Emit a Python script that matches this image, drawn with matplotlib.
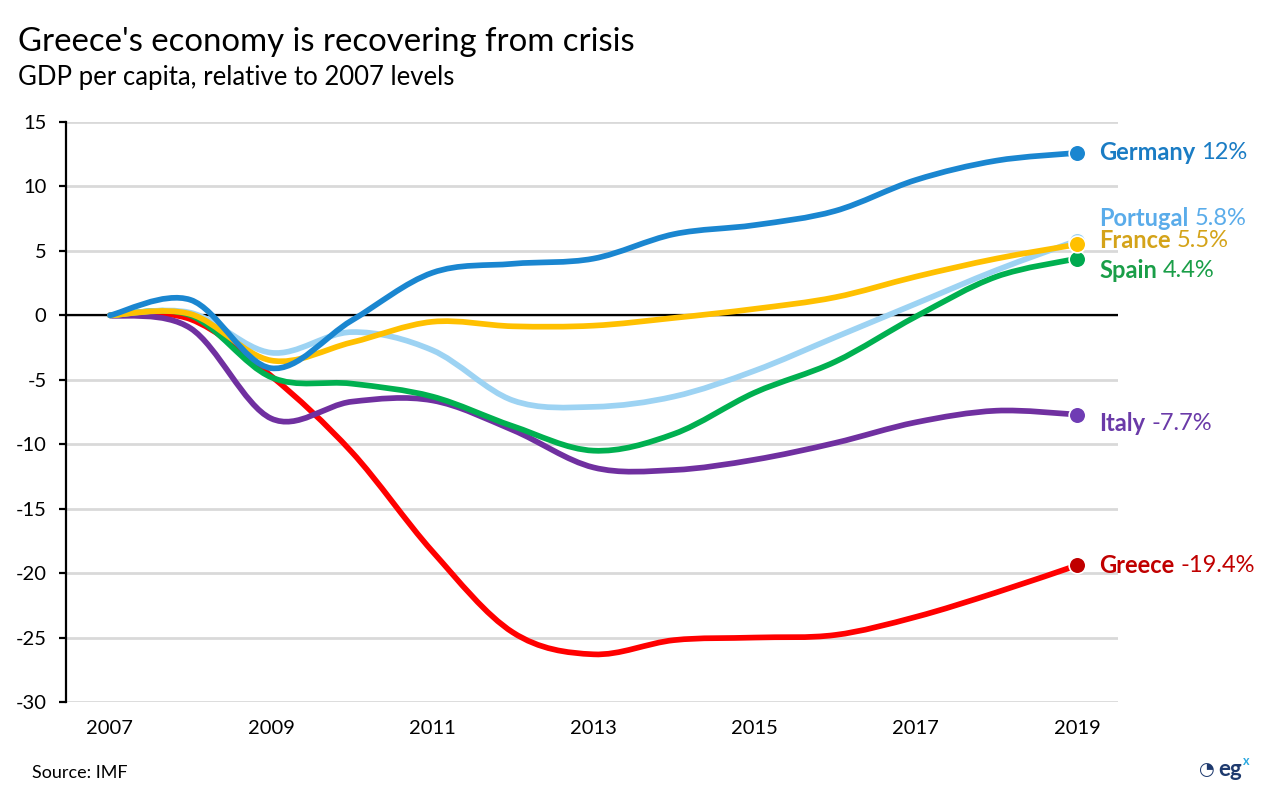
import numpy as np
import matplotlib
matplotlib.use("Agg")
import matplotlib.pyplot as plt
from matplotlib.path import Path
from matplotlib.patches import PathPatch

plt.rcParams['font.family'] = ['Lato', 'DejaVu Sans']
plt.rcParams['axes.unicode_minus'] = False

# GDP per capita, % relative to 2007
years = list(range(2007, 2020))
greece = [0, -0.3, -4.7, -10.6, -18.3, -24.6, -26.3, -25.2, -25.0, -24.8, -23.4, -21.5, -19.4]
italy = [0, -1.0, -8.0, -6.7, -6.6, -8.9, -11.8, -12.0, -11.2, -9.9, -8.3, -7.4, -7.7]
spain = [0, 0.0, -4.8, -5.3, -6.3, -8.6, -10.5, -9.2, -6.0, -3.6, -0.1, 3.0, 4.4]
portugal = [0, 0.2, -2.9, -1.3, -2.7, -6.6, -7.1, -6.3, -4.3, -1.7, 0.9, 3.5, 5.8]
france = [0, 0.1, -3.5, -2.1, -0.5, -0.85, -0.8, -0.2, 0.5, 1.4, 3.0, 4.4, 5.5]
germany = [0, 1.2, -4.1, -0.4, 3.3, 4.0, 4.4, 6.3, 7.0, 8.1, 10.5, 12.0, 12.6]

# drawing order: first is lowest
names = ["Greece", "Italy", "Spain", "Portugal", "France", "Germany"]
series = [greece, italy, spain, portugal, france, germany]
end_labels = ["-19.4%", "-7.7%", "4.4%", "5.8%", "5.5%", "12%"]

line_colors = ["#ff0000", "#7030a0", "#00b050", "#9dd3f3", "#ffc000", "#1a86d0"]
dot_colors = ["#c00000", "#6f3cb4", "#00a94f", "#9dd3f3", "#ffc000", "#1a86d0"]
text_colors = ["#c00000", "#6a3aa8", "#1a9e48", "#5aacea", "#d4a319", "#1a7cc4"]
label_y = [-19.4, -8.4, 3.5, 7.5, 5.8, 12.6]


def smooth_path(xs, ys):
    # Excel-style smoothed line: Catmull-Rom converted to cubic Bezier segments
    pts = np.column_stack([xs, ys]).astype(float)
    ext = np.vstack([pts[0], pts, pts[-1]])
    verts = [pts[0]]
    codes = [Path.MOVETO]
    for i in range(len(pts) - 1):
        p0, p1, p2, p3 = ext[i], ext[i + 1], ext[i + 2], ext[i + 3]
        c1 = p1 + (p2 - p0) / 6.0
        c2 = p2 - (p3 - p1) / 6.0
        verts += [c1, c2, p2]
        codes += [Path.CURVE4] * 3
    return Path(verts, codes)


fig = plt.figure(figsize=(12.8, 7.91), dpi=100)
ax = fig.add_axes([66 / 1280, 89 / 791, (1118 - 66) / 1280, (702 - 122) / 791])

ax.set_xlim(2006.455, 2019.51)
ax.set_ylim(-30, 15)
ax.set_yticks(range(-30, 16, 5))
ax.set_xticks([2007, 2009, 2011, 2013, 2015, 2017, 2019])
ax.grid(axis='y', color='#d9d9d9', linewidth=2)
ax.set_axisbelow(True)
ax.axhline(0, color='black', linewidth=1.6, zorder=1.5)

for s in ['top', 'right', 'bottom']:
    ax.spines[s].set_visible(False)
ax.spines['left'].set_linewidth(1.6)
ax.tick_params(axis='y', length=5, width=1.6, labelsize=14.5, pad=9)
ax.tick_params(axis='x', length=0, labelsize=14.5, pad=13)

fig.canvas.draw()
renderer = fig.canvas.get_renderer()

for i, (name, vals) in enumerate(zip(names, series)):
    patch = PathPatch(smooth_path(years, vals), facecolor='none',
                      edgecolor=line_colors[i], linewidth=4.1,
                      capstyle='round', joinstyle='round', zorder=3 + i)
    ax.add_patch(patch)
    ax.plot(years[-1], vals[-1], 'o', markersize=12, color=dot_colors[i],
            markeredgecolor='white', markeredgewidth=1.2, zorder=10 + i,
            clip_on=False)
    t = ax.annotate(name + " ", xy=(years[-1], label_y[i]), xytext=(16, 0),
                    textcoords='offset points', va='center', ha='left',
                    fontsize=17, fontweight='bold', color=text_colors[i],
                    annotation_clip=False)
    # value placed right after the bold name
    bb = t.get_window_extent(renderer)
    x_data = ax.transData.inverted().transform((bb.x1, 0))[0]
    t.set_text(name)
    ax.annotate(end_labels[i], xy=(x_data, label_y[i]), xytext=(0, 0),
                textcoords='offset points', va='center', ha='left',
                fontsize=17, color=text_colors[i], annotation_clip=False)

fig.text(18 / 1280, 1 - 42 / 791, "Greece's economy is recovering from crisis",
         fontsize=23.7, va='center', ha='left', color='black')
fig.text(18 / 1280, 1 - 78 / 791, "GDP per capita, relative to 2007 levels",
         fontsize=18.5, va='center', ha='left', color='black')
fig.text(32 / 1280, 1 - 773 / 791, "Source: IMF", fontsize=13,
         va='center', ha='left', color='black')
fig.text(1218 / 1280, 1 - 770 / 791, "eg", fontsize=16, fontweight='bold',
         va='center', ha='left', color='#1e3a6e')
fig.text(1243 / 1280, 1 - 761 / 791, "x", fontsize=9, fontweight='bold',
         va='center', ha='left', color='#29a8e0')
fig.text(1214 / 1280, 1 - 770 / 791, "\u25d4", fontsize=13,
         va='center', ha='right', color='#1e3a6e', family=['DejaVu Sans'])

fig.savefig("out.png", dpi=100)
